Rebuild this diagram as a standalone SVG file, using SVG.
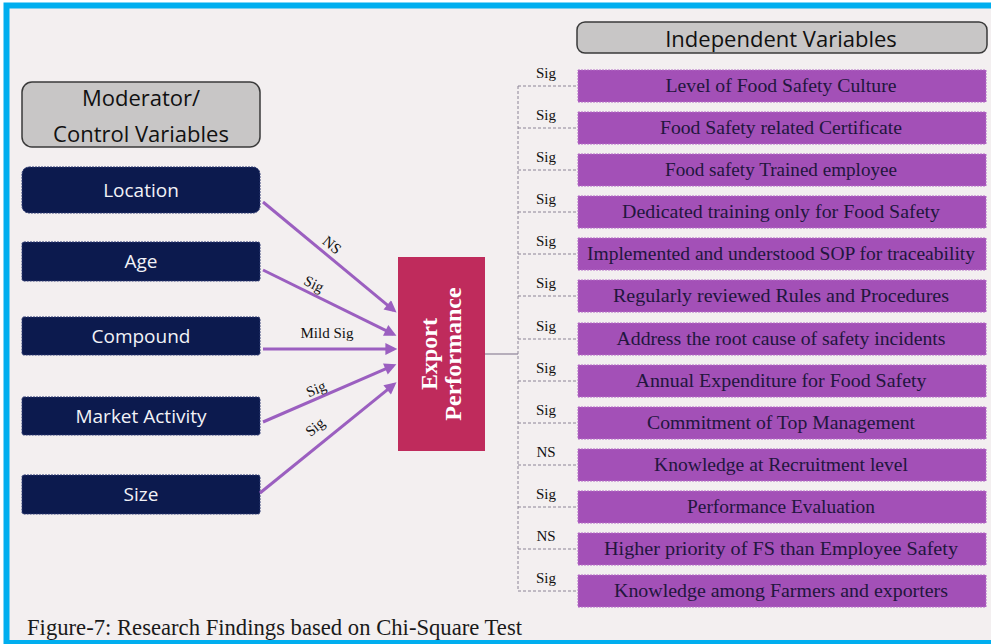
<svg xmlns="http://www.w3.org/2000/svg" width="991" height="644" viewBox="0 0 991 644">
<defs>
<style>
.hdr{fill:#c8c6c6;stroke:#3a3a3a;stroke-width:1.5}
.hdrt{font-family:"Open Sans","DejaVu Sans",sans-serif;font-size:22px;fill:#111;text-anchor:middle}
.mod{fill:#0c1a4e;stroke:#2a3770;stroke-width:1;stroke-dasharray:2,1}
.modt{font-family:"Open Sans","DejaVu Sans",sans-serif;font-size:19px;fill:#f2f2f7;text-anchor:middle}
.iv{fill:#a350b7;stroke:#b46cc6;stroke-width:1;stroke-dasharray:2,1}
.ivt{font-family:"Liberation Serif","Times New Roman",serif;font-size:19px;fill:#22163e;text-anchor:middle}
.lbl{font-family:"Liberation Serif","Times New Roman",serif;font-size:15px;fill:#111;text-anchor:middle}
.arr{stroke:#9b5fc0;stroke-width:3;fill:none;marker-end:url(#ah)}
.dash{stroke:#8c8496;stroke-width:1;stroke-dasharray:3,2;fill:none}
</style>
<marker id="ah" viewBox="0 0 10 10" refX="7" refY="5" markerWidth="14" markerHeight="12" markerUnits="userSpaceOnUse" orient="auto"><path d="M0,0 L10,5 L0,10 z" fill="#9b5fc0"/></marker>
</defs>
<rect x="0" y="0" width="991" height="644" fill="#ffffff"/>
<rect x="6.5" y="5.5" width="1000" height="637.5" fill="#f3eff0" stroke="#00aeef" stroke-width="6"/>

<g id="moderator-header">
<rect class="hdr" x="22" y="82" width="238" height="65" rx="10"/>
<text class="hdrt" x="141" y="106">Moderator/</text>
<text class="hdrt" x="141" y="142">Control Variables</text>
</g>
<g id="independent-header">
<rect class="hdr" x="577" y="22" width="410" height="31" rx="8"/>
<text class="hdrt" x="781" y="47">Independent Variables</text>
</g>

<g id="location"><rect class="mod" x="22" y="167" width="238" height="46" rx="7"/><text class="modt" x="141" y="197">Location</text></g>
<g id="age"><rect class="mod" x="22" y="242" width="238" height="39" rx="2"/><text class="modt" x="141" y="268">Age</text></g>
<g id="compound"><rect class="mod" x="22" y="317" width="238" height="38" rx="2"/><text class="modt" x="141" y="343">Compound</text></g>
<g id="market-activity"><rect class="mod" x="22" y="397" width="238" height="38" rx="2"/><text class="modt" x="141" y="423">Market Activity</text></g>
<g id="size"><rect class="mod" x="22" y="475" width="238" height="39" rx="2"/><text class="modt" x="141" y="501">Size</text></g>

<g id="export-performance">
<rect x="398" y="257" width="87" height="194" fill="#bf2b5c"/>
<text transform="translate(437,354) rotate(-90)" font-family="Liberation Serif,Times New Roman,serif" font-weight="bold" font-size="24" fill="#ffffff" text-anchor="middle">Export</text>
<text transform="translate(461,354) rotate(-90)" font-family="Liberation Serif,Times New Roman,serif" font-weight="bold" font-size="24" fill="#ffffff" text-anchor="middle">Performance</text>
</g>

<g id="iv-1"><rect class="iv" x="578" y="70" width="408" height="32"/><text class="ivt" x="781" y="92" textLength="231" lengthAdjust="spacingAndGlyphs">Level of Food Safety Culture</text></g>
<g id="iv-2"><rect class="iv" x="578" y="112" width="408" height="32"/><text class="ivt" x="781" y="134" textLength="242" lengthAdjust="spacingAndGlyphs">Food Safety related Certificate</text></g>
<g id="iv-3"><rect class="iv" x="578" y="154" width="408" height="32"/><text class="ivt" x="781" y="176" textLength="232" lengthAdjust="spacingAndGlyphs">Food safety Trained employee</text></g>
<g id="iv-4"><rect class="iv" x="578" y="196" width="408" height="32"/><text class="ivt" x="781" y="218" textLength="318" lengthAdjust="spacingAndGlyphs">Dedicated training only for Food Safety</text></g>
<g id="iv-5"><rect class="iv" x="578" y="238" width="408" height="32"/><text class="ivt" x="781" y="260" textLength="388" lengthAdjust="spacingAndGlyphs">Implemented and understood SOP for traceability</text></g>
<g id="iv-6"><rect class="iv" x="578" y="280" width="408" height="32"/><text class="ivt" x="781" y="302" textLength="336" lengthAdjust="spacingAndGlyphs">Regularly reviewed Rules and Procedures</text></g>
<g id="iv-7"><rect class="iv" x="578" y="323" width="408" height="32"/><text class="ivt" x="781" y="345" textLength="329" lengthAdjust="spacingAndGlyphs">Address the root cause of safety incidents</text></g>
<g id="iv-8"><rect class="iv" x="578" y="365" width="408" height="32"/><text class="ivt" x="781" y="387" textLength="291" lengthAdjust="spacingAndGlyphs">Annual Expenditure for Food Safety</text></g>
<g id="iv-9"><rect class="iv" x="578" y="407" width="408" height="32"/><text class="ivt" x="781" y="429" textLength="268" lengthAdjust="spacingAndGlyphs">Commitment of Top Management</text></g>
<g id="iv-10"><rect class="iv" x="578" y="449" width="408" height="32"/><text class="ivt" x="781" y="471" textLength="254" lengthAdjust="spacingAndGlyphs">Knowledge at Recruitment level</text></g>
<g id="iv-11"><rect class="iv" x="578" y="491" width="408" height="32"/><text class="ivt" x="781" y="513" textLength="188" lengthAdjust="spacingAndGlyphs">Performance Evaluation</text></g>
<g id="iv-12"><rect class="iv" x="578" y="533" width="408" height="32"/><text class="ivt" x="781" y="555" textLength="354" lengthAdjust="spacingAndGlyphs">Higher priority of FS than Employee Safety</text></g>
<g id="iv-13"><rect class="iv" x="578" y="575" width="408" height="32"/><text class="ivt" x="781" y="597" textLength="334" lengthAdjust="spacingAndGlyphs">Knowledge among Farmers and exporters</text></g>

<g id="connectors">
<line class="arr" x1="263" y1="202" x2="393.8" y2="310.3"/>
<line class="arr" x1="263" y1="270" x2="393.2" y2="334.1"/>
<line class="arr" x1="263" y1="349" x2="393.8" y2="349"/>
<line class="arr" x1="263" y1="422" x2="393.1" y2="365.7"/>
<line class="arr" x1="260" y1="493" x2="393.7" y2="384.6"/>
<text class="lbl" transform="translate(332,245) rotate(39.6)" y="5">NS</text>
<text class="lbl" transform="translate(314,284) rotate(26)" y="5">Sig</text>
<text class="lbl" x="327" y="338">Mild Sig</text>
<text class="lbl" transform="translate(316,389) rotate(-23)" y="5">Sig</text>
<text class="lbl" transform="translate(315,427) rotate(-39)" y="5">Sig</text>

<line x1="485" y1="354" x2="518" y2="354" stroke="#7b6f86" stroke-width="1.2"/>
<line class="dash" x1="518" y1="86" x2="518" y2="591"/>
<path class="dash" d="M518,86H578M518,128H578M518,170H578M518,212H578M518,254H578M518,296H578M518,339H578M518,381H578M518,423H578M518,465H578M518,507H578M518,549H578M518,591H578"/>
<text class="lbl" x="546" y="78">Sig</text>
<text class="lbl" x="546" y="120">Sig</text>
<text class="lbl" x="546" y="162">Sig</text>
<text class="lbl" x="546" y="204">Sig</text>
<text class="lbl" x="546" y="246">Sig</text>
<text class="lbl" x="546" y="288">Sig</text>
<text class="lbl" x="546" y="331">Sig</text>
<text class="lbl" x="546" y="373">Sig</text>
<text class="lbl" x="546" y="415">Sig</text>
<text class="lbl" x="546" y="457">NS</text>
<text class="lbl" x="546" y="499">Sig</text>
<text class="lbl" x="546" y="541">NS</text>
<text class="lbl" x="546" y="583">Sig</text>
</g>

<text x="27" y="635" font-family="Liberation Serif,Times New Roman,serif" font-size="23" fill="#1a1a1a" textLength="495" lengthAdjust="spacingAndGlyphs">Figure-7: Research Findings based on Chi-Square Test</text>
</svg>
